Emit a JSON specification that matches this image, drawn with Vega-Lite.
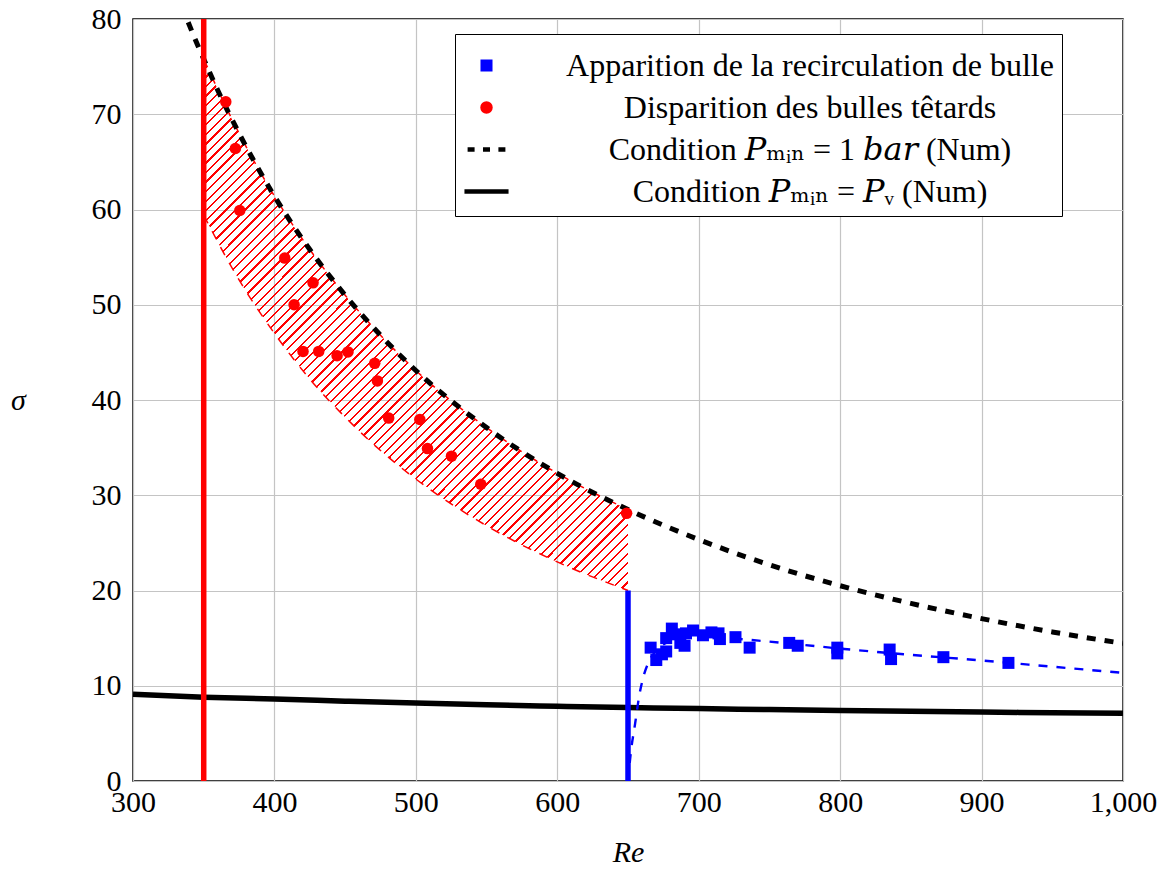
{
  "$schema": "https://vega.github.io/schema/vega-lite/v6.json",
  "width": 990,
  "height": 762,
  "autosize": "none",
  "padding": {"left": 133, "top": 19, "right": 45, "bottom": 89},
  "background": "white",
  "datasets": {
    "band": [
      {"Re": 350, "hi": 75.8, "lo": 59.4},
      {"Re": 375, "hi": 68.0, "lo": 52.6},
      {"Re": 400, "hi": 61.4, "lo": 47.0},
      {"Re": 425, "hi": 55.8, "lo": 42.2},
      {"Re": 450, "hi": 51.0, "lo": 38.2},
      {"Re": 475, "hi": 46.8, "lo": 34.7},
      {"Re": 500, "hi": 43.1, "lo": 31.7},
      {"Re": 550, "hi": 37.1, "lo": 26.8},
      {"Re": 600, "hi": 32.3, "lo": 23.0},
      {"Re": 650, "hi": 28.5, "lo": 20.0}
    ],
    "bar1": [
      {"Re": 330, "sigma": 83.2}, {"Re": 340, "sigma": 79.3}, {"Re": 350, "sigma": 75.8},
      {"Re": 360, "sigma": 72.5}, {"Re": 375, "sigma": 68.0}, {"Re": 400, "sigma": 61.4},
      {"Re": 425, "sigma": 55.8}, {"Re": 450, "sigma": 51.0}, {"Re": 475, "sigma": 46.8},
      {"Re": 500, "sigma": 43.1}, {"Re": 550, "sigma": 37.1}, {"Re": 600, "sigma": 32.3},
      {"Re": 650, "sigma": 28.5}, {"Re": 700, "sigma": 25.35}, {"Re": 750, "sigma": 22.7},
      {"Re": 800, "sigma": 20.5}, {"Re": 850, "sigma": 18.65}, {"Re": 900, "sigma": 17.05},
      {"Re": 950, "sigma": 15.65}, {"Re": 1000, "sigma": 14.45}
    ],
    "pv": [
      {"Re": 300, "sigma": 9.1}, {"Re": 350, "sigma": 8.8}, {"Re": 400, "sigma": 8.6},
      {"Re": 450, "sigma": 8.38}, {"Re": 500, "sigma": 8.18}, {"Re": 550, "sigma": 8.0},
      {"Re": 600, "sigma": 7.85}, {"Re": 650, "sigma": 7.72}, {"Re": 700, "sigma": 7.6},
      {"Re": 750, "sigma": 7.5}, {"Re": 800, "sigma": 7.4}, {"Re": 850, "sigma": 7.32},
      {"Re": 900, "sigma": 7.24}, {"Re": 950, "sigma": 7.17}, {"Re": 1000, "sigma": 7.1}
    ],
    "fit": [
      {"Re": 650, "sigma": 0}, {"Re": 652, "sigma": 3}, {"Re": 655, "sigma": 6},
      {"Re": 658, "sigma": 9}, {"Re": 661, "sigma": 11}, {"Re": 665, "sigma": 12.6},
      {"Re": 670, "sigma": 13.7}, {"Re": 680, "sigma": 14.7}, {"Re": 690, "sigma": 15.05},
      {"Re": 700, "sigma": 15.15}, {"Re": 720, "sigma": 15.0}, {"Re": 745, "sigma": 14.7},
      {"Re": 770, "sigma": 14.35}, {"Re": 800, "sigma": 13.9}, {"Re": 850, "sigma": 13.25},
      {"Re": 900, "sigma": 12.65}, {"Re": 950, "sigma": 12.0}, {"Re": 1000, "sigma": 11.35}
    ],
    "vlines": [
      {"Re": 350, "lo": 0, "hi": 80, "line": "red"},
      {"Re": 650, "lo": 0, "hi": 20, "line": "blue"}
    ],
    "circles": [
      {"Re": 365.6, "sigma": 71.3}, {"Re": 372.4, "sigma": 66.4}, {"Re": 375.5, "sigma": 59.9},
      {"Re": 407.3, "sigma": 54.9}, {"Re": 413.9, "sigma": 50.0}, {"Re": 427.3, "sigma": 52.3},
      {"Re": 420.2, "sigma": 45.1}, {"Re": 431.3, "sigma": 45.1}, {"Re": 444.3, "sigma": 44.65},
      {"Re": 452.0, "sigma": 45.05}, {"Re": 470.9, "sigma": 43.85}, {"Re": 472.8, "sigma": 42.0},
      {"Re": 480.8, "sigma": 38.1}, {"Re": 502.8, "sigma": 37.95}, {"Re": 508.2, "sigma": 34.9},
      {"Re": 525.2, "sigma": 34.1}, {"Re": 545.9, "sigma": 31.15}, {"Re": 649.0, "sigma": 28.1}
    ],
    "squares": [
      {"Re": 666, "sigma": 14.0}, {"Re": 670, "sigma": 12.7}, {"Re": 674, "sigma": 13.3},
      {"Re": 677, "sigma": 13.6}, {"Re": 677, "sigma": 15.0}, {"Re": 681, "sigma": 16.0},
      {"Re": 684, "sigma": 15.4}, {"Re": 687, "sigma": 14.5}, {"Re": 690, "sigma": 14.2},
      {"Re": 691, "sigma": 15.5}, {"Re": 696, "sigma": 15.8}, {"Re": 703, "sigma": 15.3},
      {"Re": 709, "sigma": 15.6}, {"Re": 714, "sigma": 15.5}, {"Re": 715, "sigma": 14.9},
      {"Re": 726, "sigma": 15.1}, {"Re": 736, "sigma": 14.0}, {"Re": 764, "sigma": 14.5},
      {"Re": 770, "sigma": 14.2}, {"Re": 798, "sigma": 14.0}, {"Re": 798, "sigma": 13.4},
      {"Re": 835, "sigma": 13.8}, {"Re": 836, "sigma": 12.8}, {"Re": 873, "sigma": 13.0},
      {"Re": 919, "sigma": 12.4}
    ],
    "legendrows": []
  },
  "layer": [
    {
      "data": {"name": "band"},
      "mark": {
        "type": "area",
        "interpolate": "monotone",
        "fill": {
          "gradient": "linear", "x1": 0, "y1": 0, "x2": 0.877, "y2": 1.098,
          "stops": [
            {"offset": 0, "color": "red"}, {"offset": 0.0024, "color": "red"}, {"offset": 0.0024, "color": "transparent"},
            {"offset": 0.01, "color": "transparent"}, {"offset": 0.01, "color": "red"}, {"offset": 0.0124, "color": "red"}, {"offset": 0.0124, "color": "transparent"},
            {"offset": 0.02, "color": "transparent"}, {"offset": 0.02, "color": "red"}, {"offset": 0.0224, "color": "red"}, {"offset": 0.0224, "color": "transparent"},
            {"offset": 0.03, "color": "transparent"}, {"offset": 0.03, "color": "red"}, {"offset": 0.0324, "color": "red"}, {"offset": 0.0324, "color": "transparent"},
            {"offset": 0.04, "color": "transparent"}, {"offset": 0.04, "color": "red"}, {"offset": 0.0424, "color": "red"}, {"offset": 0.0424, "color": "transparent"},
            {"offset": 0.05, "color": "transparent"}, {"offset": 0.05, "color": "red"}, {"offset": 0.0524, "color": "red"}, {"offset": 0.0524, "color": "transparent"},
            {"offset": 0.06, "color": "transparent"}, {"offset": 0.06, "color": "red"}, {"offset": 0.0624, "color": "red"}, {"offset": 0.0624, "color": "transparent"},
            {"offset": 0.07, "color": "transparent"}, {"offset": 0.07, "color": "red"}, {"offset": 0.0724, "color": "red"}, {"offset": 0.0724, "color": "transparent"},
            {"offset": 0.08, "color": "transparent"}, {"offset": 0.08, "color": "red"}, {"offset": 0.0824, "color": "red"}, {"offset": 0.0824, "color": "transparent"},
            {"offset": 0.09, "color": "transparent"}, {"offset": 0.09, "color": "red"}, {"offset": 0.0924, "color": "red"}, {"offset": 0.0924, "color": "transparent"},
            {"offset": 0.10, "color": "transparent"}, {"offset": 0.10, "color": "red"}, {"offset": 0.1024, "color": "red"}, {"offset": 0.1024, "color": "transparent"},
            {"offset": 0.11, "color": "transparent"}, {"offset": 0.11, "color": "red"}, {"offset": 0.1124, "color": "red"}, {"offset": 0.1124, "color": "transparent"},
            {"offset": 0.12, "color": "transparent"}, {"offset": 0.12, "color": "red"}, {"offset": 0.1224, "color": "red"}, {"offset": 0.1224, "color": "transparent"},
            {"offset": 0.13, "color": "transparent"}, {"offset": 0.13, "color": "red"}, {"offset": 0.1324, "color": "red"}, {"offset": 0.1324, "color": "transparent"},
            {"offset": 0.14, "color": "transparent"}, {"offset": 0.14, "color": "red"}, {"offset": 0.1424, "color": "red"}, {"offset": 0.1424, "color": "transparent"},
            {"offset": 0.15, "color": "transparent"}, {"offset": 0.15, "color": "red"}, {"offset": 0.1524, "color": "red"}, {"offset": 0.1524, "color": "transparent"},
            {"offset": 0.16, "color": "transparent"}, {"offset": 0.16, "color": "red"}, {"offset": 0.1624, "color": "red"}, {"offset": 0.1624, "color": "transparent"},
            {"offset": 0.17, "color": "transparent"}, {"offset": 0.17, "color": "red"}, {"offset": 0.1724, "color": "red"}, {"offset": 0.1724, "color": "transparent"},
            {"offset": 0.18, "color": "transparent"}, {"offset": 0.18, "color": "red"}, {"offset": 0.1824, "color": "red"}, {"offset": 0.1824, "color": "transparent"},
            {"offset": 0.19, "color": "transparent"}, {"offset": 0.19, "color": "red"}, {"offset": 0.1924, "color": "red"}, {"offset": 0.1924, "color": "transparent"},
            {"offset": 0.20, "color": "transparent"}, {"offset": 0.20, "color": "red"}, {"offset": 0.2024, "color": "red"}, {"offset": 0.2024, "color": "transparent"},
            {"offset": 0.21, "color": "transparent"}, {"offset": 0.21, "color": "red"}, {"offset": 0.2124, "color": "red"}, {"offset": 0.2124, "color": "transparent"},
            {"offset": 0.22, "color": "transparent"}, {"offset": 0.22, "color": "red"}, {"offset": 0.2224, "color": "red"}, {"offset": 0.2224, "color": "transparent"},
            {"offset": 0.23, "color": "transparent"}, {"offset": 0.23, "color": "red"}, {"offset": 0.2324, "color": "red"}, {"offset": 0.2324, "color": "transparent"},
            {"offset": 0.24, "color": "transparent"}, {"offset": 0.24, "color": "red"}, {"offset": 0.2424, "color": "red"}, {"offset": 0.2424, "color": "transparent"},
            {"offset": 0.25, "color": "transparent"}, {"offset": 0.25, "color": "red"}, {"offset": 0.2524, "color": "red"}, {"offset": 0.2524, "color": "transparent"},
            {"offset": 0.26, "color": "transparent"}, {"offset": 0.26, "color": "red"}, {"offset": 0.2624, "color": "red"}, {"offset": 0.2624, "color": "transparent"},
            {"offset": 0.27, "color": "transparent"}, {"offset": 0.27, "color": "red"}, {"offset": 0.2724, "color": "red"}, {"offset": 0.2724, "color": "transparent"},
            {"offset": 0.28, "color": "transparent"}, {"offset": 0.28, "color": "red"}, {"offset": 0.2824, "color": "red"}, {"offset": 0.2824, "color": "transparent"},
            {"offset": 0.29, "color": "transparent"}, {"offset": 0.29, "color": "red"}, {"offset": 0.2924, "color": "red"}, {"offset": 0.2924, "color": "transparent"},
            {"offset": 0.30, "color": "transparent"}, {"offset": 0.30, "color": "red"}, {"offset": 0.3024, "color": "red"}, {"offset": 0.3024, "color": "transparent"},
            {"offset": 0.31, "color": "transparent"}, {"offset": 0.31, "color": "red"}, {"offset": 0.3124, "color": "red"}, {"offset": 0.3124, "color": "transparent"},
            {"offset": 0.32, "color": "transparent"}, {"offset": 0.32, "color": "red"}, {"offset": 0.3224, "color": "red"}, {"offset": 0.3224, "color": "transparent"},
            {"offset": 0.33, "color": "transparent"}, {"offset": 0.33, "color": "red"}, {"offset": 0.3324, "color": "red"}, {"offset": 0.3324, "color": "transparent"},
            {"offset": 0.34, "color": "transparent"}, {"offset": 0.34, "color": "red"}, {"offset": 0.3424, "color": "red"}, {"offset": 0.3424, "color": "transparent"},
            {"offset": 0.35, "color": "transparent"}, {"offset": 0.35, "color": "red"}, {"offset": 0.3524, "color": "red"}, {"offset": 0.3524, "color": "transparent"},
            {"offset": 0.36, "color": "transparent"}, {"offset": 0.36, "color": "red"}, {"offset": 0.3624, "color": "red"}, {"offset": 0.3624, "color": "transparent"},
            {"offset": 0.37, "color": "transparent"}, {"offset": 0.37, "color": "red"}, {"offset": 0.3724, "color": "red"}, {"offset": 0.3724, "color": "transparent"},
            {"offset": 0.38, "color": "transparent"}, {"offset": 0.38, "color": "red"}, {"offset": 0.3824, "color": "red"}, {"offset": 0.3824, "color": "transparent"},
            {"offset": 0.39, "color": "transparent"}, {"offset": 0.39, "color": "red"}, {"offset": 0.3924, "color": "red"}, {"offset": 0.3924, "color": "transparent"},
            {"offset": 0.40, "color": "transparent"}, {"offset": 0.40, "color": "red"}, {"offset": 0.4024, "color": "red"}, {"offset": 0.4024, "color": "transparent"},
            {"offset": 0.41, "color": "transparent"}, {"offset": 0.41, "color": "red"}, {"offset": 0.4124, "color": "red"}, {"offset": 0.4124, "color": "transparent"},
            {"offset": 0.42, "color": "transparent"}, {"offset": 0.42, "color": "red"}, {"offset": 0.4224, "color": "red"}, {"offset": 0.4224, "color": "transparent"},
            {"offset": 0.43, "color": "transparent"}, {"offset": 0.43, "color": "red"}, {"offset": 0.4324, "color": "red"}, {"offset": 0.4324, "color": "transparent"},
            {"offset": 0.44, "color": "transparent"}, {"offset": 0.44, "color": "red"}, {"offset": 0.4424, "color": "red"}, {"offset": 0.4424, "color": "transparent"},
            {"offset": 0.45, "color": "transparent"}, {"offset": 0.45, "color": "red"}, {"offset": 0.4524, "color": "red"}, {"offset": 0.4524, "color": "transparent"},
            {"offset": 0.46, "color": "transparent"}, {"offset": 0.46, "color": "red"}, {"offset": 0.4624, "color": "red"}, {"offset": 0.4624, "color": "transparent"},
            {"offset": 0.47, "color": "transparent"}, {"offset": 0.47, "color": "red"}, {"offset": 0.4724, "color": "red"}, {"offset": 0.4724, "color": "transparent"},
            {"offset": 0.48, "color": "transparent"}, {"offset": 0.48, "color": "red"}, {"offset": 0.4824, "color": "red"}, {"offset": 0.4824, "color": "transparent"},
            {"offset": 0.49, "color": "transparent"}, {"offset": 0.49, "color": "red"}, {"offset": 0.4924, "color": "red"}, {"offset": 0.4924, "color": "transparent"},
            {"offset": 0.50, "color": "transparent"}, {"offset": 0.50, "color": "red"}, {"offset": 0.5024, "color": "red"}, {"offset": 0.5024, "color": "transparent"},
            {"offset": 0.51, "color": "transparent"}, {"offset": 0.51, "color": "red"}, {"offset": 0.5124, "color": "red"}, {"offset": 0.5124, "color": "transparent"},
            {"offset": 0.52, "color": "transparent"}, {"offset": 0.52, "color": "red"}, {"offset": 0.5224, "color": "red"}, {"offset": 0.5224, "color": "transparent"},
            {"offset": 0.53, "color": "transparent"}, {"offset": 0.53, "color": "red"}, {"offset": 0.5324, "color": "red"}, {"offset": 0.5324, "color": "transparent"},
            {"offset": 0.54, "color": "transparent"}, {"offset": 0.54, "color": "red"}, {"offset": 0.5424, "color": "red"}, {"offset": 0.5424, "color": "transparent"},
            {"offset": 0.55, "color": "transparent"}, {"offset": 0.55, "color": "red"}, {"offset": 0.5524, "color": "red"}, {"offset": 0.5524, "color": "transparent"},
            {"offset": 0.56, "color": "transparent"}, {"offset": 0.56, "color": "red"}, {"offset": 0.5624, "color": "red"}, {"offset": 0.5624, "color": "transparent"},
            {"offset": 0.57, "color": "transparent"}, {"offset": 0.57, "color": "red"}, {"offset": 0.5724, "color": "red"}, {"offset": 0.5724, "color": "transparent"},
            {"offset": 0.58, "color": "transparent"}, {"offset": 0.58, "color": "red"}, {"offset": 0.5824, "color": "red"}, {"offset": 0.5824, "color": "transparent"},
            {"offset": 0.59, "color": "transparent"}, {"offset": 0.59, "color": "red"}, {"offset": 0.5924, "color": "red"}, {"offset": 0.5924, "color": "transparent"},
            {"offset": 0.60, "color": "transparent"}, {"offset": 0.60, "color": "red"}, {"offset": 0.6024, "color": "red"}, {"offset": 0.6024, "color": "transparent"},
            {"offset": 0.61, "color": "transparent"}, {"offset": 0.61, "color": "red"}, {"offset": 0.6124, "color": "red"}, {"offset": 0.6124, "color": "transparent"},
            {"offset": 0.62, "color": "transparent"}, {"offset": 0.62, "color": "red"}, {"offset": 0.6224, "color": "red"}, {"offset": 0.6224, "color": "transparent"},
            {"offset": 0.63, "color": "transparent"}, {"offset": 0.63, "color": "red"}, {"offset": 0.6324, "color": "red"}, {"offset": 0.6324, "color": "transparent"},
            {"offset": 0.64, "color": "transparent"}, {"offset": 0.64, "color": "red"}, {"offset": 0.6424, "color": "red"}, {"offset": 0.6424, "color": "transparent"},
            {"offset": 0.65, "color": "transparent"}, {"offset": 0.65, "color": "red"}, {"offset": 0.6524, "color": "red"}, {"offset": 0.6524, "color": "transparent"},
            {"offset": 0.66, "color": "transparent"}, {"offset": 0.66, "color": "red"}, {"offset": 0.6624, "color": "red"}, {"offset": 0.6624, "color": "transparent"},
            {"offset": 0.67, "color": "transparent"}, {"offset": 0.67, "color": "red"}, {"offset": 0.6724, "color": "red"}, {"offset": 0.6724, "color": "transparent"},
            {"offset": 0.68, "color": "transparent"}, {"offset": 0.68, "color": "red"}, {"offset": 0.6824, "color": "red"}, {"offset": 0.6824, "color": "transparent"},
            {"offset": 0.69, "color": "transparent"}, {"offset": 0.69, "color": "red"}, {"offset": 0.6924, "color": "red"}, {"offset": 0.6924, "color": "transparent"},
            {"offset": 0.70, "color": "transparent"}, {"offset": 0.70, "color": "red"}, {"offset": 0.7024, "color": "red"}, {"offset": 0.7024, "color": "transparent"},
            {"offset": 0.71, "color": "transparent"}, {"offset": 0.71, "color": "red"}, {"offset": 0.7124, "color": "red"}, {"offset": 0.7124, "color": "transparent"},
            {"offset": 0.72, "color": "transparent"}, {"offset": 0.72, "color": "red"}, {"offset": 0.7224, "color": "red"}, {"offset": 0.7224, "color": "transparent"},
            {"offset": 0.73, "color": "transparent"}, {"offset": 0.73, "color": "red"}, {"offset": 0.7324, "color": "red"}, {"offset": 0.7324, "color": "transparent"},
            {"offset": 0.74, "color": "transparent"}, {"offset": 0.74, "color": "red"}, {"offset": 0.7424, "color": "red"}, {"offset": 0.7424, "color": "transparent"},
            {"offset": 0.75, "color": "transparent"}, {"offset": 0.75, "color": "red"}, {"offset": 0.7524, "color": "red"}, {"offset": 0.7524, "color": "transparent"},
            {"offset": 0.76, "color": "transparent"}, {"offset": 0.76, "color": "red"}, {"offset": 0.7624, "color": "red"}, {"offset": 0.7624, "color": "transparent"},
            {"offset": 0.77, "color": "transparent"}, {"offset": 0.77, "color": "red"}, {"offset": 0.7724, "color": "red"}, {"offset": 0.7724, "color": "transparent"},
            {"offset": 0.78, "color": "transparent"}, {"offset": 0.78, "color": "red"}, {"offset": 0.7824, "color": "red"}, {"offset": 0.7824, "color": "transparent"},
            {"offset": 0.79, "color": "transparent"}, {"offset": 0.79, "color": "red"}, {"offset": 0.7924, "color": "red"}, {"offset": 0.7924, "color": "transparent"},
            {"offset": 0.80, "color": "transparent"}, {"offset": 0.80, "color": "red"}, {"offset": 0.8024, "color": "red"}, {"offset": 0.8024, "color": "transparent"},
            {"offset": 0.81, "color": "transparent"}, {"offset": 0.81, "color": "red"}, {"offset": 0.8124, "color": "red"}, {"offset": 0.8124, "color": "transparent"},
            {"offset": 0.82, "color": "transparent"}, {"offset": 0.82, "color": "red"}, {"offset": 0.8224, "color": "red"}, {"offset": 0.8224, "color": "transparent"},
            {"offset": 0.83, "color": "transparent"}, {"offset": 0.83, "color": "red"}, {"offset": 0.8324, "color": "red"}, {"offset": 0.8324, "color": "transparent"},
            {"offset": 0.84, "color": "transparent"}, {"offset": 0.84, "color": "red"}, {"offset": 0.8424, "color": "red"}, {"offset": 0.8424, "color": "transparent"},
            {"offset": 0.85, "color": "transparent"}, {"offset": 0.85, "color": "red"}, {"offset": 0.8524, "color": "red"}, {"offset": 0.8524, "color": "transparent"},
            {"offset": 0.86, "color": "transparent"}, {"offset": 0.86, "color": "red"}, {"offset": 0.8624, "color": "red"}, {"offset": 0.8624, "color": "transparent"},
            {"offset": 0.87, "color": "transparent"}, {"offset": 0.87, "color": "red"}, {"offset": 0.8724, "color": "red"}, {"offset": 0.8724, "color": "transparent"},
            {"offset": 0.88, "color": "transparent"}, {"offset": 0.88, "color": "red"}, {"offset": 0.8824, "color": "red"}, {"offset": 0.8824, "color": "transparent"},
            {"offset": 0.89, "color": "transparent"}, {"offset": 0.89, "color": "red"}, {"offset": 0.8924, "color": "red"}, {"offset": 0.8924, "color": "transparent"},
            {"offset": 0.90, "color": "transparent"}, {"offset": 0.90, "color": "red"}, {"offset": 0.9024, "color": "red"}, {"offset": 0.9024, "color": "transparent"},
            {"offset": 0.91, "color": "transparent"}, {"offset": 0.91, "color": "red"}, {"offset": 0.9124, "color": "red"}, {"offset": 0.9124, "color": "transparent"},
            {"offset": 0.92, "color": "transparent"}, {"offset": 0.92, "color": "red"}, {"offset": 0.9224, "color": "red"}, {"offset": 0.9224, "color": "transparent"},
            {"offset": 0.93, "color": "transparent"}, {"offset": 0.93, "color": "red"}, {"offset": 0.9324, "color": "red"}, {"offset": 0.9324, "color": "transparent"},
            {"offset": 0.94, "color": "transparent"}, {"offset": 0.94, "color": "red"}, {"offset": 0.9424, "color": "red"}, {"offset": 0.9424, "color": "transparent"},
            {"offset": 0.95, "color": "transparent"}, {"offset": 0.95, "color": "red"}, {"offset": 0.9524, "color": "red"}, {"offset": 0.9524, "color": "transparent"},
            {"offset": 0.96, "color": "transparent"}, {"offset": 0.96, "color": "red"}, {"offset": 0.9624, "color": "red"}, {"offset": 0.9624, "color": "transparent"},
            {"offset": 0.97, "color": "transparent"}, {"offset": 0.97, "color": "red"}, {"offset": 0.9724, "color": "red"}, {"offset": 0.9724, "color": "transparent"},
            {"offset": 0.98, "color": "transparent"}, {"offset": 0.98, "color": "red"}, {"offset": 0.9824, "color": "red"}, {"offset": 0.9824, "color": "transparent"},
            {"offset": 0.99, "color": "transparent"}, {"offset": 0.99, "color": "red"}, {"offset": 0.9924, "color": "red"}, {"offset": 0.9924, "color": "transparent"},
            {"offset": 1, "color": "transparent"}
          ]
        }
      },
      "encoding": {
        "x": {
          "field": "Re", "type": "quantitative",
          "scale": {"domain": [300, 1000], "nice": false, "zero": false},
          "axis": {
            "title": "Re", "values": [300, 400, 500, 600, 700, 800, 900, 1000], "format": ",d",
            "labelPadding": 6, "titlePadding": 20
          }
        },
        "y": {
          "field": "hi", "type": "quantitative",
          "scale": {"domain": [0, 80], "nice": false, "zero": true},
          "axis": {
            "title": "σ", "values": [0, 10, 20, 30, 40, 50, 60, 70, 80], "labelPadding": 12,
            "titleAngle": 0, "titleX": -115, "titleY": 381, "titleAlign": "center", "titleBaseline": "middle"
          }
        },
        "y2": {"field": "lo"}
      }
    },
    {
      "data": {"name": "band"},
      "mark": {"type": "line", "interpolate": "monotone", "color": "red", "strokeWidth": 1.5, "strokeDash": [9, 9]},
      "encoding": {"x": {"field": "Re", "type": "quantitative"}, "y": {"field": "lo", "type": "quantitative"}}
    },
    {
      "data": {"name": "band"},
      "mark": {"type": "line", "interpolate": "monotone", "color": "red", "strokeWidth": 1.5, "strokeDash": [9, 9]},
      "encoding": {"x": {"field": "Re", "type": "quantitative"}, "y": {"field": "hi", "type": "quantitative"}}
    },
    {
      "data": {"name": "pv"},
      "mark": {"type": "line", "interpolate": "monotone", "color": "black", "strokeWidth": 5.5},
      "encoding": {"x": {"field": "Re", "type": "quantitative"}, "y": {"field": "sigma", "type": "quantitative"}}
    },
    {
      "data": {"name": "bar1"},
      "mark": {"type": "line", "interpolate": "monotone", "color": "black", "strokeWidth": 5, "strokeDash": [9, 9], "clip": true},
      "encoding": {"x": {"field": "Re", "type": "quantitative"}, "y": {"field": "sigma", "type": "quantitative"}}
    },
    {
      "data": {"name": "fit"},
      "mark": {"type": "line", "interpolate": "monotone", "color": "blue", "strokeWidth": 2.4, "strokeDash": [9, 9]},
      "encoding": {"x": {"field": "Re", "type": "quantitative"}, "y": {"field": "sigma", "type": "quantitative"}}
    },
    {
      "data": {"name": "vlines"},
      "mark": {"type": "rule", "strokeWidth": 5.5},
      "encoding": {
        "x": {"field": "Re", "type": "quantitative"},
        "y": {"field": "lo", "type": "quantitative"},
        "y2": {"field": "hi"},
        "color": {"field": "line", "type": "nominal", "scale": null, "legend": null}
      }
    },
    {
      "data": {"name": "circles"},
      "mark": {"type": "point", "shape": "circle", "filled": true, "color": "red", "size": 133, "opacity": 1},
      "encoding": {"x": {"field": "Re", "type": "quantitative"}, "y": {"field": "sigma", "type": "quantitative"}}
    },
    {
      "data": {"name": "squares"},
      "mark": {"type": "point", "shape": "square", "filled": true, "color": "blue", "size": 144, "opacity": 1},
      "encoding": {"x": {"field": "Re", "type": "quantitative"}, "y": {"field": "sigma", "type": "quantitative"}}
    },
    {
      "data": {"name": "legendrows"},
      "mark": {"type": "point", "filled": true, "opacity": 1},
      "encoding": {
        "fill": {
          "field": "series", "type": "nominal",
          "scale": {
            "domain": ["Apparition de la recirculation de bulle", "Disparition des bulles têtards", "Condition 𝑃ₘᵢₙ = 1 𝑏𝑎𝑟 (Num)", "Condition 𝑃ₘᵢₙ = 𝑃ᵥ (Num)"],
            "range": ["blue", "red", "transparent", "transparent"]
          },
          "legend": {"orient": "none", "legendX": 322, "legendY": 15, "title": null}
        },
        "stroke": {
          "field": "series", "type": "nominal",
          "scale": {
            "domain": ["Apparition de la recirculation de bulle", "Disparition des bulles têtards", "Condition 𝑃ₘᵢₙ = 1 𝑏𝑎𝑟 (Num)", "Condition 𝑃ₘᵢₙ = 𝑃ᵥ (Num)"],
            "range": ["blue", "red", "black", "black"]
          },
          "legend": {"orient": "none", "legendX": 322, "legendY": 15, "title": null}
        },
        "shape": {
          "field": "series", "type": "nominal",
          "scale": {
            "domain": ["Apparition de la recirculation de bulle", "Disparition des bulles têtards", "Condition 𝑃ₘᵢₙ = 1 𝑏𝑎𝑟 (Num)", "Condition 𝑃ₘᵢₙ = 𝑃ᵥ (Num)"],
            "range": [
              "M-0.179,-0.179H0.179V0.179H-0.179Z",
              "M0.19,0A0.19,0.19,0,1,1,-0.19,0A0.19,0.19,0,1,1,0.19,0Z",
              "M-0.9,0H-0.567M-0.167,0H0.167M0.567,0H0.9",
              "M-1.05,0H1.05"
            ]
          },
          "legend": {"orient": "none", "legendX": 322, "legendY": 15, "title": null}
        }
      }
    }
  ],
  "config": {
    "view": {"stroke": "black", "strokeWidth": 1.5},
    "axis": {
      "labelFont": "Liberation Serif", "labelFontSize": 30, "labelColor": "black",
      "titleFont": "Liberation Serif", "titleFontSize": 30, "titleFontWeight": "normal", "titleFontStyle": "italic", "titleColor": "black",
      "gridColor": "#c4c4c4", "gridWidth": 1.2, "gridOpacity": 1,
      "ticks": false, "domain": false, "labelFlush": false, "labelOverlap": false
    },
    "legend": {
      "labelFont": "Liberation Serif, DejaVu Serif, serif", "labelFontSize": 32, "labelColor": "black", "labelLimit": 900,
      "labelAlign": "center", "labelOffset": 300,
      "symbolSize": 1764, "symbolStrokeWidth": 4.5, "symbolOpacity": 1,
      "rowPadding": 2, "padding": 8, "strokeColor": "black", "fillColor": "white"
    }
  }
}
